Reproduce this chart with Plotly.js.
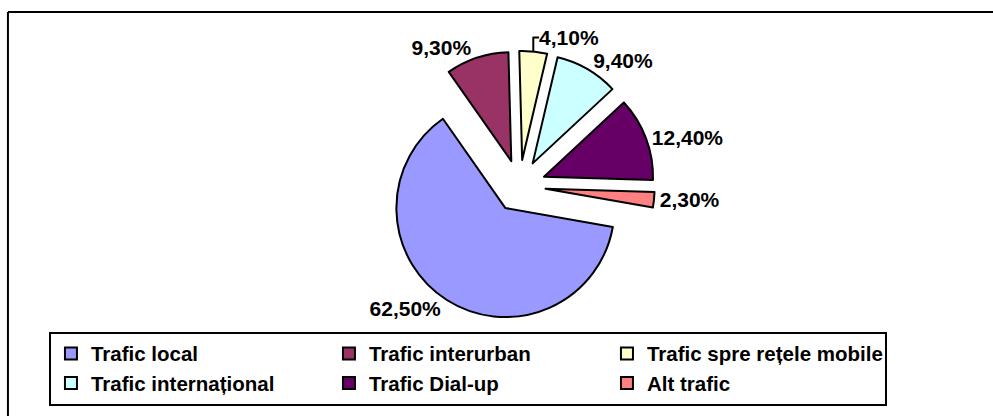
<!DOCTYPE html>
<html>
<head>
<meta charset="utf-8">
<script src="https://cdn.plot.ly/plotly-3.0.1.min.js"></script>
<style>
  html, body { margin: 0; padding: 0; background: #ffffff; }
  #chart { width: 993px; height: 416px; }
</style>
</head>
<body>
<div id="chart"></div>
<script>
// ---- data ----
const categories = [
  "Trafic local",
  "Trafic interurban",
  "Trafic spre rețele mobile",
  "Trafic internațional",
  "Trafic Dial-up",
  "Alt trafic"
];
const shares = [62.5, 9.3, 4.1, 9.4, 12.4, 2.3];
const sliceColors = ["#9999FF", "#993366", "#FFFFCC", "#CCFFFF", "#660066", "#FF8080"];

const FONT = "Arial, 'Liberation Sans', sans-serif";

const trace = {
  type: "pie",
  labels: categories,
  values: shares,
  sort: false,
  direction: "clockwise",
  rotation: 100,
  pull: 0.24,
  marker: { colors: sliceColors, line: { color: "#000000", width: 2 } },
  texttemplate: "%{value:.2f}%",
  textposition: "outside",
  textfont: { family: FONT, size: 21, color: "#000000", weight: "bold" },
  hoverinfo: "label+percent",
  domain: { x: [0.3870, 0.6593], y: [0.2279, 0.8779] }
};

const layout = {
  width: 993,
  height: 416,
  margin: { l: 0, r: 0, t: 0, b: 0 },
  paper_bgcolor: "#ffffff",
  separators: ",.",
  showlegend: true,
  legend: {
    orientation: "h",
    x: 0.0493, xanchor: "left",
    y: 0.2030, yanchor: "top",
    entrywidth: 233,
    entrywidthmode: "pixels",
    bgcolor: "#ffffff",
    bordercolor: "#000000",
    borderwidth: 2,
    font: { family: FONT, size: 20.5, color: "#000000", weight: "bold" },
    traceorder: "normal"
  },
  shapes: [
    { type: "line", xref: "paper", yref: "paper", x0: 0.008, x1: 1.01, y0: 0.9712, y1: 0.9712,
      line: { color: "#000000", width: 2 } },
    { type: "line", xref: "paper", yref: "paper", x0: 0.008, x1: 0.008, y0: -0.01, y1: 0.9712,
      line: { color: "#000000", width: 2 } }
  ]
};

Plotly.newPlot("chart", [trace], layout, { displayModeBar: false, staticPlot: true });
</script>
</body>
</html>
